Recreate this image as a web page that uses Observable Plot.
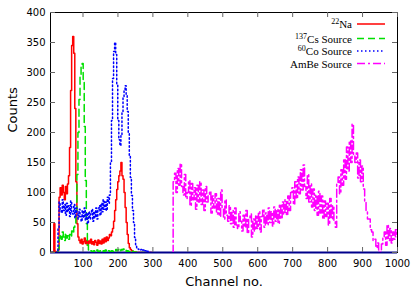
<!DOCTYPE html>
<html>
<head>
<meta charset="utf-8">
<script src="https://cdn.jsdelivr.net/npm/d3@7"></script>
<script src="https://cdn.jsdelivr.net/npm/@observablehq/plot@0.6"></script>
<style>
  body { margin: 0; background: #fff; }
</style>
</head>
<body>
<div id="chart"></div>
<script>
// Low-energy spectra: channels 0, 3, 6, ... 297
const lowStart = 0;
const lowStep = 3;

const naCounts = [
  0, 0, 0, 0, 0, 0, 48, 2, 0, 0,
  4, 92, 108, 96, 112, 100, 88, 110, 98, 114,
  128, 175, 270, 345, 360, 332, 240, 118, 48, 26,
  20, 16, 22, 14, 18, 24, 15, 20, 12, 19,
  16, 22, 14, 18, 13, 20, 17, 12, 21, 15,
  19, 14, 22, 16, 24, 18, 26, 20, 24, 30,
  28, 34, 40, 52, 70, 88, 105, 118, 128, 136,
  150, 128, 122, 100, 75, 50, 30, 15, 8, 5,
  3, 2, 1, 1, 0, 0, 0, 0, 0, 0,
  0, 0, 0, 0, 0, 0, 0, 0, 0, 0
];

const csCounts = [
  0, 0, 0, 0, 0, 0, 0, 0, 0, 0,
  6, 24, 30, 22, 34, 26, 20, 32, 24, 28,
  22, 30, 26, 36, 32, 42, 48, 70, 130, 200,
  255, 292, 312, 315, 285, 210, 120, 48, 12, 4,
  2, 3, 1, 2, 3, 1, 2, 4, 2, 1,
  3, 2, 1, 3, 2, 4, 2, 1, 3, 2,
  2, 3, 2, 4, 3, 5, 3, 4, 6, 3,
  5, 4, 6, 3, 4, 2, 3, 2, 1, 2,
  1, 2, 1, 0, 1, 0, 0, 0, 0, 0,
  0, 0, 0, 0, 0, 0, 0, 0, 0, 0
];

const coCounts = [
  0, 0, 0, 0, 0, 0, 0, 0, 0, 2,
  40, 84, 72, 66, 88, 70, 80, 62, 82, 68,
  78, 60, 86, 68, 64, 80, 58, 74, 66, 56,
  72, 60, 52, 70, 58, 74, 54, 66, 48, 68,
  56, 64, 72, 52, 68, 58, 74, 56, 70, 78,
  62, 82, 68, 88, 72, 84, 70, 92, 82, 96,
  150, 220, 290, 335, 350, 330, 280, 220, 188, 178,
  195, 235, 260, 270, 278, 262, 235, 200, 160, 125,
  95, 70, 50, 25, 12, 8, 6, 5, 4, 5,
  3, 4, 2, 3, 1, 2, 1, 0, 0, 0
];

// Neutron source spectrum: channels 356, 360, ... 1000
const ambeStart = 356;
const ambeStep = 4;
const ambeCounts = [
  0,
  118, 132, 100, 140, 112, 148, 110, 96, 130, 90,
  100, 120, 78, 115, 88, 108, 72, 112, 84, 118,
  80, 104, 70, 110, 84, 96, 102, 66, 94, 74,
  98, 64, 90, 60, 104, 72, 56, 88, 62, 52,
  78, 48, 70, 42, 74, 46, 40, 68, 52, 36,
  62, 42, 70, 32, 58, 64, 26, 56, 36, 62,
  40, 68, 34, 60, 72, 42, 66, 46, 74, 50,
  68, 44, 76, 52, 72, 48, 80, 56, 84, 64,
  88, 62, 94, 70, 100, 108, 80, 118, 90, 126,
  98, 138, 104, 146, 110, 90, 130, 84, 114, 76,
  106, 70, 96, 62, 102, 66, 94, 56, 86, 60,
  82, 46, 90, 56, 78, 52, 42, 116, 126, 98,
  138, 112, 156, 122, 176, 136, 186, 150, 214, 162,
  150, 166, 124, 154, 118, 144, 106, 86, 70, 56,
  56, 38, 34, 20, 22, 8, 16, 3, 0, 14,
  26, 34, 12, 46, 20, 40, 16, 34, 22, 38, 26
];

const xTicks = [100, 200, 300, 400, 500, 600, 700, 800, 900, 1000];
const yTicks = [0, 50, 100, 150, 200, 250, 300, 350, 400];

const sourceSup = ["22", "137", "60", ""];
const sourceBase = ["Na", "Cs Source", "Co Source", "AmBe Source"];

// Line styles per source
const colors = ["#ff0000", "#00e000", "#0000ff", "#ff00ff"];
const dashes = [null, "7,4", "1.5,2.5", "8,3,2,3"];

function toRows(counts, start, step) {
  return counts.map((c, i) => ({channel: start + i * step, counts: c}));
}

const seriesRows = [
  toRows(naCounts, lowStart, lowStep),
  toRows(csCounts, lowStart, lowStep),
  toRows(coCounts, lowStart, lowStep),
  toRows(ambeCounts, ambeStart, ambeStep)
];

const W = 413, H = 294;
const mL = 50, mR = 16, mT = 12, mB = 42;
const innerW = W - mL - mR, innerH = H - mT - mB;
const tickLen = 5;

const chart = Plot.plot({
  width: W,
  height: H,
  marginLeft: mL,
  marginRight: mR,
  marginTop: mT,
  marginBottom: mB,
  style: {fontFamily: "'DejaVu Sans', sans-serif", fontSize: "10px", background: "#fff", color: "#000", overflow: "visible"},
  x: {domain: [7, 1000]},
  y: {domain: [0, 400]},
  marks: [
    Plot.frame({stroke: "#000"}),
    Plot.ruleY([0], {stroke: "#00008b", strokeWidth: 2}),
    ...seriesRows.map((rows, i) => Plot.line(rows, {
      x: "channel", y: "counts", curve: "step",
      stroke: colors[i], strokeWidth: 1.5,
      strokeDasharray: dashes[i], clip: true
    })),
    // inward ticks on all four sides
    Plot.ruleX(xTicks, {insetTop: innerH - tickLen, stroke: "#666"}),
    Plot.ruleX(xTicks, {insetBottom: innerH - tickLen, stroke: "#666"}),
    Plot.ruleY(yTicks, {insetRight: innerW - tickLen, stroke: "#666"}),
    Plot.ruleY(yTicks, {insetLeft: innerW - tickLen, stroke: "#666"}),
    Plot.axisX({ticks: xTicks, tickFormat: d3.format("d"), tickSize: 0, tickPadding: 7, label: null}),
    Plot.axisY({ticks: yTicks, tickFormat: d3.format("d"), tickSize: 0, tickPadding: 5, label: null}),
    Plot.text(["Channel no."], {frameAnchor: "bottom", dy: 33, fontSize: 13}),
    Plot.text(["Counts"], {frameAnchor: "left", dx: -38, rotate: -90, fontSize: 13})
  ]
});

// Legend box in the upper right of the plot area
const svg = d3.select(chart);
const legendRowY = [24, 38.5, 51, 63.5];
const legendTextX = 352, legendLineX1 = 357, legendLineX2 = 385;
const lg = svg.append("g")
  .attr("font-family", "'Liberation Serif', 'Times New Roman', serif")
  .attr("font-size", 11)
  .attr("fill", "#000");
sourceBase.forEach((name, i) => {
  const y = legendRowY[i];
  const t = lg.append("text")
    .attr("x", legendTextX)
    .attr("y", y + 4)
    .attr("text-anchor", "end");
  if (sourceSup[i]) {
    t.append("tspan").attr("font-size", 8).attr("dy", -4).text(sourceSup[i]);
    t.append("tspan").attr("dy", 4).text(name);
  } else {
    t.append("tspan").text(name);
  }
  lg.append("line")
    .attr("x1", legendLineX1).attr("x2", legendLineX2)
    .attr("y1", y).attr("y2", y)
    .attr("stroke", colors[i])
    .attr("stroke-width", 1.5)
    .attr("stroke-dasharray", dashes[i]);
});

document.getElementById("chart").appendChild(chart);
</script>
</body>
</html>
